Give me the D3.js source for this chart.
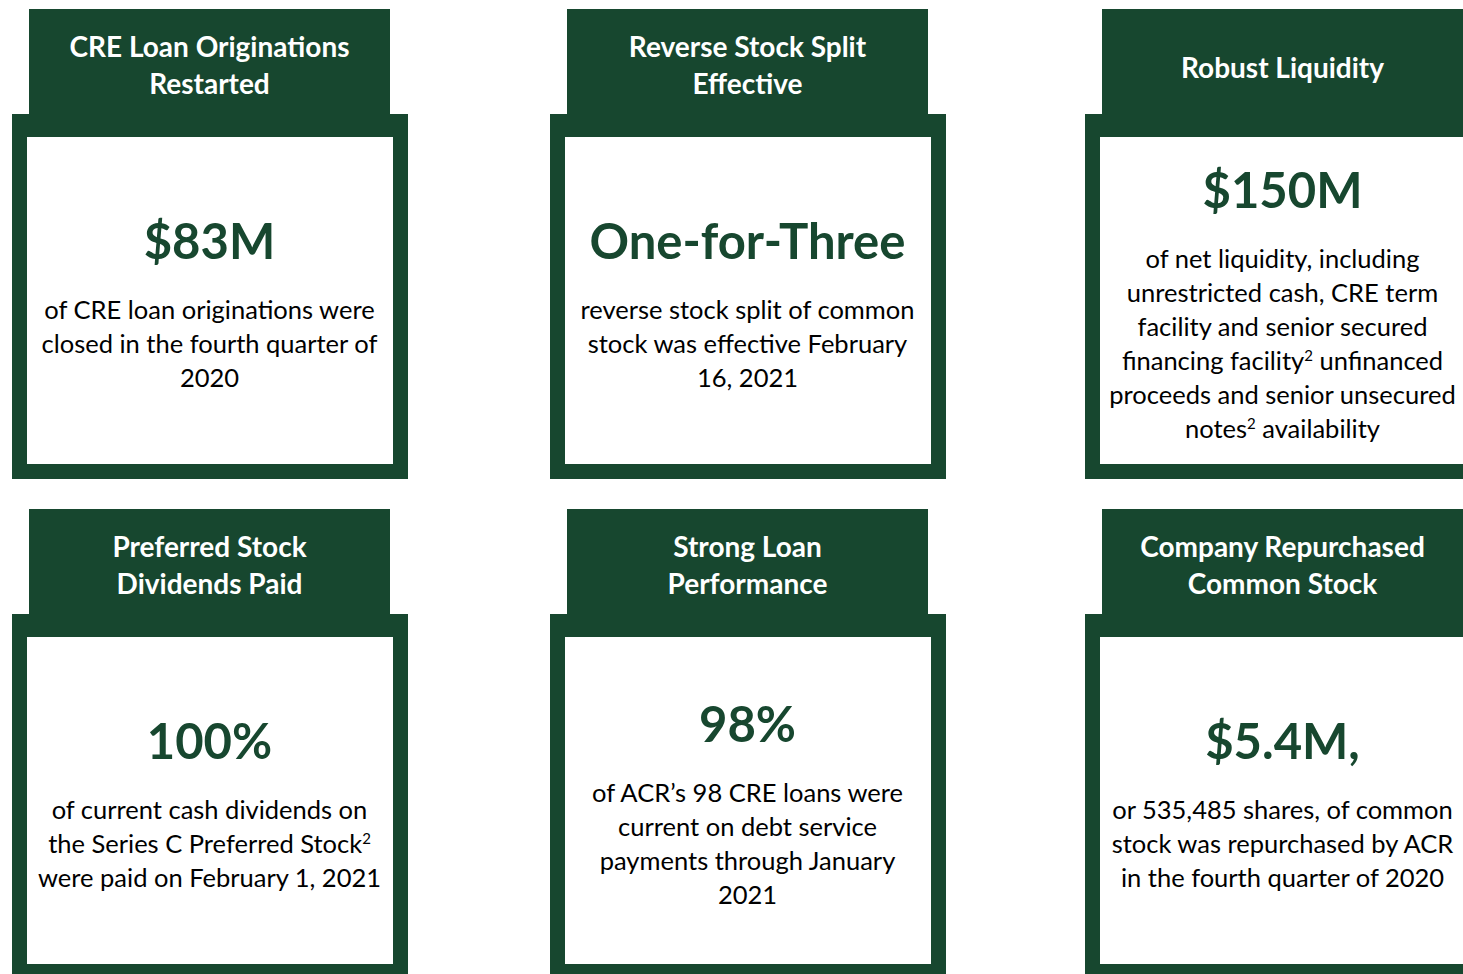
<!DOCTYPE html>
<html lang="en">
<head>
    <meta charset="UTF-8">
    <title>highlights</title>
    <script src="https://cdn.jsdelivr.net/npm/d3@7"></script>
    <style>
        body { margin: 0; background: #fff; }
        svg { display: block; }
    </style>
</head>
<body>
    <script>
        // card content, in reading order (row by row); "^" marks a superscript 2
        const titles = [
            ['CRE Loan Originations', 'Restarted'],
            ['Reverse Stock Split', 'Effective'],
            ['Robust Liquidity'],
            ['Preferred Stock', 'Dividends Paid'],
            ['Strong Loan', 'Performance'],
            ['Company Repurchased', 'Common Stock']
        ];
        const values = ['$83M', 'One-for-Three', '$150M', '100%', '98%', '$5.4M,'];
        const descriptions = [
            ['of CRE loan originations were', 'closed in the fourth quarter of', '2020'],
            ['reverse stock split of common', 'stock was effective February', '16, 2021'],
            ['of net liquidity, including', 'unrestricted cash, CRE term', 'facility and senior secured',
             'financing facility^ unfinanced', 'proceeds and senior unsecured', 'notes^ availability'],
            ['of current cash dividends on', 'the Series C Preferred Stock^', 'were paid on February 1, 2021'],
            ['of ACR’s 98 CRE loans were', 'current on debt service', 'payments through January', '2021'],
            ['or 535,485 shares, of common', 'stock was repurchased by ACR', 'in the fourth quarter of 2020']
        ];

        const width = 1463, height = 974,
            green = '#17472f',
            font = 'Lato, "Open Sans", sans-serif',
            frameW = 396, frameH = 365,
            headInset = 17, headW = 361, headAbove = 105,
            border = 15, borderTop = 23,
            lineStep = 34;

        const cards = titles.map(function(t, i) {
            return { title: t, value: values[i], desc: descriptions[i], col: i % 3, row: Math.floor(i / 3) };
        });

        const colX = d3.scaleLinear().domain([0, 1, 2]).range([12, 550, 1085]);
        const rowY = d3.scaleLinear().domain([0, 1]).range([114, 614]);

        const svg = d3.select('body').append('svg')
            .attr('width', width)
            .attr('height', height);

        const card = svg.selectAll('.card').data(cards).enter().append('g')
            .attr('class', 'card')
            .attr('transform', function(d) { return 'translate(' + colX(d.col) + ',' + rowY(d.row) + ')'; });

        // outer frame, white inside, header tab on top
        card.append('rect').attr('fill', green)
            .attr('x', 0).attr('y', 0).attr('width', frameW).attr('height', frameH);
        card.append('rect').attr('fill', '#fff')
            .attr('x', border).attr('y', borderTop)
            .attr('width', frameW - 2 * border).attr('height', frameH - borderTop - border);
        card.append('rect').attr('fill', green)
            .attr('x', headInset).attr('y', -headAbove)
            .attr('width', headW).attr('height', headAbove + borderTop);

        const cx = headInset + headW / 2;

        card.each(function(d) {
            const g = d3.select(this);

            // header text
            const base = d.title.length === 1 ? [-36] : [-57, -20];
            g.selectAll('.title').data(d.title).enter().append('text')
                .attr('class', 'title')
                .attr('x', cx)
                .attr('y', function(t, j) { return base[j]; })
                .attr('text-anchor', 'middle')
                .attr('fill', '#fff')
                .attr('font-family', font)
                .attr('font-weight', 700)
                .attr('font-size', '28px')
                .text(function(t) { return t; });

            // value + description block, centred in the white area
            const innerCenter = borderTop + (frameH - borderTop - border) / 2;
            const blockH = 98 + (d.desc.length - 1) * lineStep + 6;
            const top = innerCenter + 6 - blockH / 2;
            const valueBase = top + 38;

            g.append('text')
                .attr('x', cx)
                .attr('y', valueBase)
                .attr('text-anchor', 'middle')
                .attr('fill', green)
                .attr('font-family', font)
                .attr('font-weight', 700)
                .attr('font-size', '49px')
                .text(d.value);

            const desc = g.selectAll('.desc').data(d.desc).enter().append('text')
                .attr('class', 'desc')
                .attr('x', cx)
                .attr('y', function(t, j) { return valueBase + 60 + j * lineStep; })
                .attr('text-anchor', 'middle')
                .attr('fill', '#000')
                .attr('font-family', font)
                .attr('font-size', '25.5px');

            // split lines on the superscript marker
            desc.each(function(t) {
                const el = d3.select(this);
                t.split('^').forEach(function(part, k) {
                    if (k > 0) {
                        el.append('tspan').attr('font-size', '15px').attr('dy', '-9').text('2');
                        el.append('tspan').attr('dy', '9').text(part);
                    } else {
                        el.append('tspan').text(part);
                    }
                });
            });
        });
    </script>
</body>
</html>
